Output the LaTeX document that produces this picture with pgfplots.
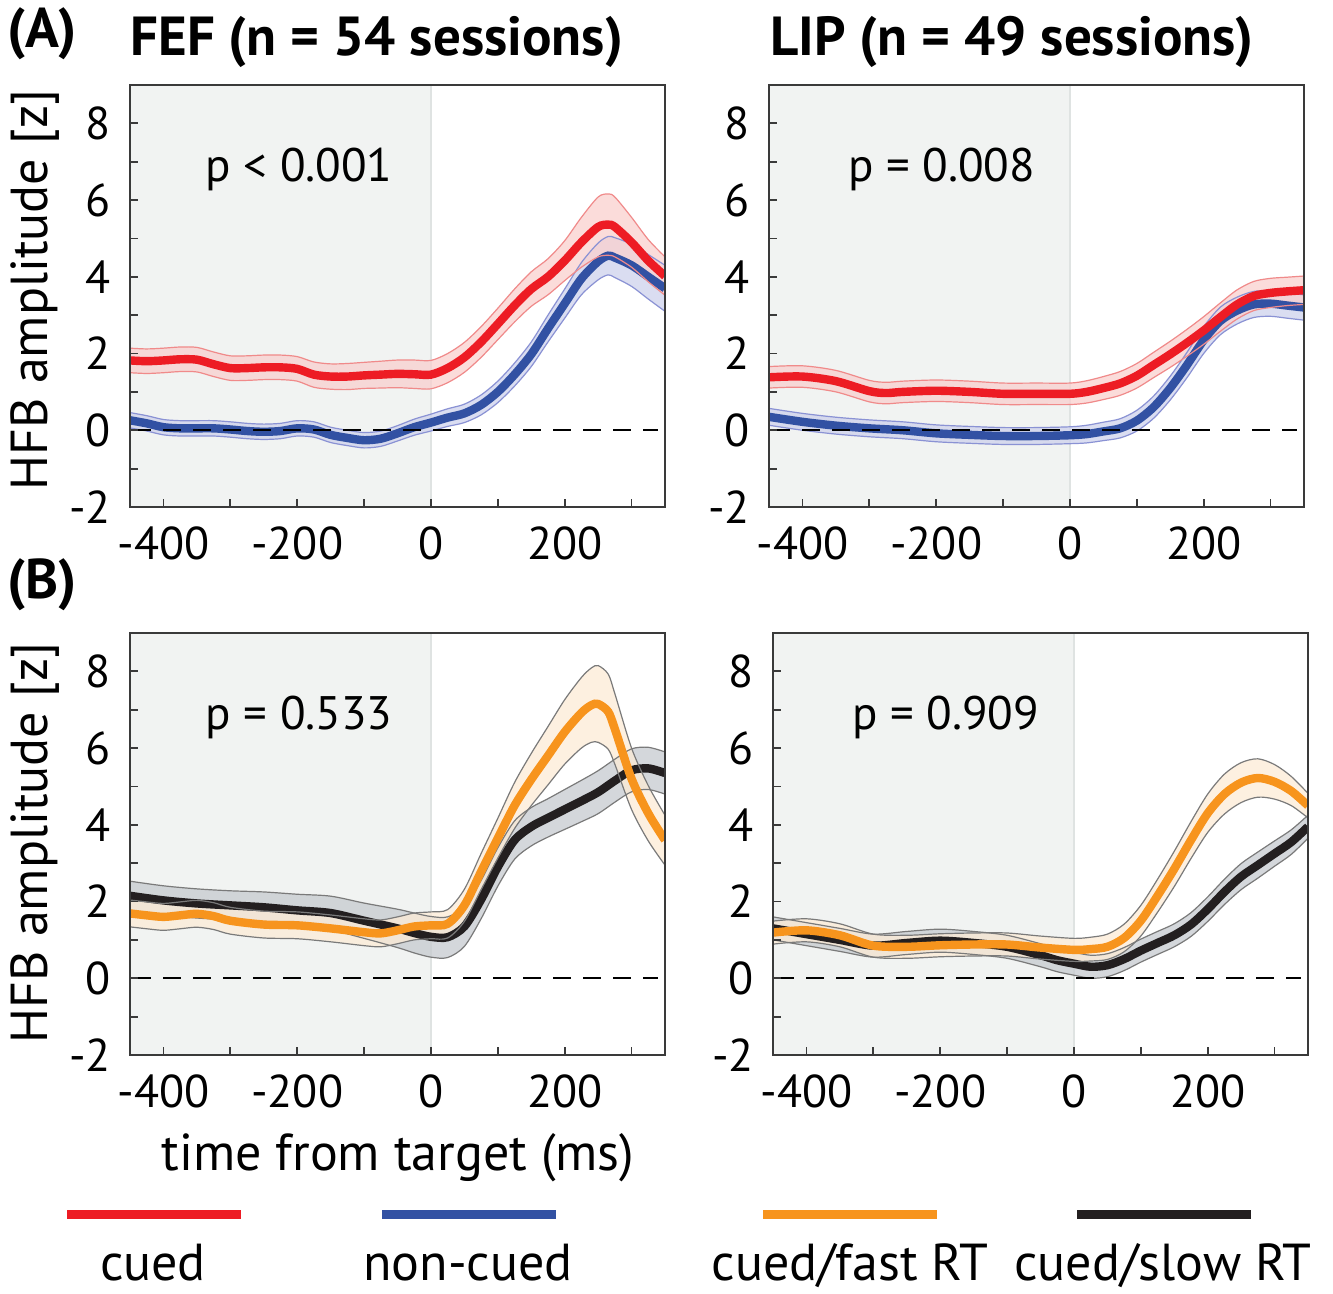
\documentclass[border=0pt]{standalone}
\usepackage{pgfplots}
\pgfplotsset{compat=1.18}
\usepackage{pgfplotstable}
\usepgfplotslibrary{fillbetween}
\usepackage{fontspec}
\setmainfont{PT Sans}

\definecolor{cuedred}{HTML}{ED1C24}
\definecolor{cuedredband}{HTML}{F9D0CE}
\definecolor{cuedrededge}{HTML}{F08A8A}
\definecolor{ncblue}{HTML}{3251A3}
\definecolor{ncblueband}{HTML}{CDD1EC}
\definecolor{ncblueedge}{HTML}{8A92D4}
\definecolor{fastorange}{HTML}{F7941D}
\definecolor{fastband}{HTML}{FDEBD6}
\definecolor{slowblack}{HTML}{231F20}
\definecolor{slowband}{HTML}{C6CACF}
\definecolor{bandedge}{HTML}{7A7A7A}
\definecolor{prestim}{HTML}{F1F3F2}
\definecolor{prestimedge}{HTML}{DFE3E2}
\definecolor{axisgray}{HTML}{3A3A3A}

% mean (m) and s.e.m. (e) per time bin, ms from target onset
\pgfplotstableread{
t m e
-450 1.82 0.32
-425 1.80 0.32
-400 1.82 0.32
-375 1.85 0.32
-350 1.84 0.32
-325 1.72 0.32
-300 1.62 0.32
-275 1.62 0.32
-250 1.64 0.32
-225 1.64 0.32
-200 1.60 0.32
-175 1.45 0.33
-150 1.40 0.33
-125 1.40 0.34
-100 1.43 0.34
-75 1.45 0.35
-50 1.47 0.36
-25 1.46 0.37
0 1.45 0.37
25 1.62 0.38
50 1.90 0.39
75 2.30 0.40
100 2.77 0.41
125 3.25 0.43
150 3.68 0.45
175 4.00 0.47
200 4.42 0.52
225 4.90 0.65
250 5.30 0.78
265 5.36 0.80
275 5.30 0.78
300 4.90 0.65
325 4.42 0.55
350 4.02 0.50
}\fefcued
\pgfplotstableread{
t m e
-450 0.26 0.20
-425 0.18 0.20
-400 0.08 0.20
-375 0.05 0.20
-350 0.05 0.20
-325 0.05 0.20
-300 0.02 0.20
-275 -0.02 0.20
-250 -0.04 0.20
-225 -0.02 0.20
-200 0.05 0.20
-175 0.02 0.20
-150 -0.12 0.20
-125 -0.20 0.20
-100 -0.26 0.20
-75 -0.22 0.20
-50 -0.08 0.20
-25 0.08 0.21
0 0.20 0.22
25 0.33 0.23
50 0.44 0.24
75 0.66 0.26
100 1.00 0.28
125 1.45 0.30
150 1.98 0.32
175 2.65 0.35
200 3.30 0.38
225 3.95 0.42
250 4.40 0.48
265 4.55 0.50
275 4.50 0.52
300 4.30 0.55
325 4.00 0.58
350 3.70 0.60
}\fefnoncued
\pgfplotstableread{
t m e
-450 1.38 0.28
-400 1.40 0.28
-350 1.28 0.28
-300 1.02 0.28
-275 0.97 0.28
-250 1.00 0.28
-200 1.03 0.28
-150 1.00 0.28
-100 0.95 0.28
-50 0.95 0.28
0 0.95 0.28
25 1.00 0.29
50 1.10 0.30
75 1.22 0.31
100 1.42 0.32
125 1.70 0.33
150 1.98 0.34
175 2.28 0.35
200 2.60 0.36
225 2.95 0.37
250 3.28 0.38
275 3.50 0.38
300 3.58 0.38
325 3.62 0.37
350 3.65 0.37
}\lipcued
\pgfplotstableread{
t m e
-450 0.35 0.22
-400 0.22 0.22
-350 0.12 0.22
-300 0.05 0.22
-250 0.00 0.22
-200 -0.08 0.22
-150 -0.12 0.22
-100 -0.15 0.22
-50 -0.15 0.22
0 -0.13 0.22
25 -0.10 0.23
50 -0.03 0.24
75 0.05 0.25
100 0.25 0.27
125 0.60 0.29
150 1.10 0.31
175 1.70 0.33
200 2.35 0.35
225 2.85 0.36
250 3.12 0.35
275 3.28 0.34
300 3.30 0.33
325 3.25 0.33
350 3.20 0.33
}\lipnoncued
\pgfplotstableread{
t m e
-450 1.69 0.35
-425 1.64 0.35
-400 1.60 0.35
-375 1.64 0.35
-350 1.68 0.35
-325 1.62 0.35
-300 1.50 0.35
-250 1.40 0.35
-200 1.38 0.35
-150 1.30 0.35
-100 1.20 0.35
-75 1.17 0.35
-50 1.25 0.35
-25 1.35 0.35
0 1.38 0.35
25 1.42 0.37
50 1.90 0.42
75 2.78 0.47
100 3.65 0.52
125 4.50 0.60
150 5.18 0.68
175 5.80 0.76
200 6.42 0.84
225 6.92 0.92
240 7.12 0.97
250 7.15 1.00
265 6.95 0.98
275 6.50 0.92
300 5.20 0.80
325 4.30 0.72
350 3.60 0.65
}\feffast
\pgfplotstableread{
t m e
-450 2.15 0.38
-400 2.03 0.38
-350 1.95 0.38
-300 1.90 0.38
-250 1.85 0.40
-200 1.77 0.42
-150 1.70 0.44
-100 1.50 0.46
-50 1.30 0.50
-25 1.18 0.52
0 1.08 0.53
25 1.07 0.53
50 1.35 0.52
75 2.05 0.50
100 2.90 0.50
125 3.60 0.50
150 3.95 0.50
175 4.18 0.50
200 4.40 0.52
225 4.62 0.54
250 4.85 0.56
275 5.15 0.56
300 5.42 0.56
325 5.47 0.55
350 5.35 0.55
}\fefslow
\pgfplotstableread{
t m e
-450 1.19 0.30
-400 1.25 0.30
-350 1.12 0.30
-300 0.85 0.30
-250 0.82 0.30
-200 0.86 0.30
-150 0.88 0.30
-100 0.88 0.30
-50 0.80 0.30
0 0.74 0.30
25 0.76 0.31
50 0.82 0.33
75 1.05 0.36
100 1.50 0.40
125 2.15 0.43
150 2.85 0.46
175 3.60 0.48
200 4.30 0.50
225 4.80 0.52
250 5.10 0.52
275 5.22 0.50
300 5.12 0.45
325 4.88 0.38
350 4.50 0.32
}\lipfast
\pgfplotstableread{
t m e
-450 1.30 0.30
-400 1.15 0.30
-350 1.00 0.30
-300 0.85 0.30
-250 0.92 0.30
-200 0.98 0.30
-150 0.92 0.30
-100 0.82 0.30
-50 0.60 0.30
-25 0.47 0.30
0 0.38 0.30
25 0.30 0.30
50 0.34 0.30
75 0.50 0.30
100 0.72 0.30
125 0.92 0.30
150 1.12 0.30
175 1.40 0.31
200 1.80 0.32
225 2.25 0.33
250 2.65 0.34
275 2.95 0.34
300 3.25 0.33
325 3.55 0.32
350 3.95 0.30
}\lipslow

% shaded s.e.m. band with thin edges, then the mean trace on top
% #1 table, #2 path id, #3 band fill, #4 band edge, #5 trace colour
\newcommand{\meanband}[5]{%
  \addplot[name path=up#2, draw=none, smooth] table[x=t, y expr=\thisrow{m}+\thisrow{e}] {#1};
  \addplot[name path=lo#2, draw=none, smooth] table[x=t, y expr=\thisrow{m}-\thisrow{e}] {#1};
  \addplot[fill=#3, fill opacity=0.75, draw=none] fill between[of=up#2 and lo#2];
  \addplot[draw=#4, line width=0.6pt, smooth] table[x=t, y expr=\thisrow{m}+\thisrow{e}] {#1};
  \addplot[draw=#4, line width=0.6pt, smooth] table[x=t, y expr=\thisrow{m}-\thisrow{e}] {#1};
  \addplot[draw=#5, line width=4.2pt, smooth] table[x=t, y=m] {#1};
}
% pre-target window (kept beneath the bands) and zero line
\newcommand{\prestimulus}{%
  \begin{pgfonlayer}{axis background}
    \fill[prestim] (axis cs:-450,-2) rectangle (axis cs:0,9);
    \draw[prestimedge, line width=0.8pt] (axis cs:0,-2) -- (axis cs:0,9);
  \end{pgfonlayer}
}
\newcommand{\zeroline}{%
  \addplot[draw=black, line width=1pt, dash pattern=on 9pt off 6pt] coordinates {(-445,0) (340,0)};
}

\pgfplotsset{
  panel/.style={
    set layers,
    scale only axis, width=267.5pt, height=211pt,
    anchor=south west,
    xmin=-450, xmax=350, ymin=-2, ymax=9,
    xtick={-400,-200,0,200}, minor xtick={-300,-100,100,300},
    ytick={-2,0,2,4,6,8}, minor ytick={-1,1,3,5,7},
    tick align=inside, tick pos=left,
    major tick length=4pt, minor tick length=4pt,
    every tick/.style={line width=0.9pt, color=axisgray},
    axis line style={line width=1pt, color=axisgray},
    tick label style={font=\fontsize{23}{23}\selectfont, text=black},
    /pgf/number format/assume math mode=true,
    /pgf/number format/1000 sep={},
    xticklabel style={yshift=-6.5pt},
    yticklabel style={xshift=-6pt},
    axis on top,
  }
}

\begin{document}
\begin{tikzpicture}

% (A) cued vs non-cued
\begin{axis}[panel, at={(65pt,393.5pt)}]
  \prestimulus
  \meanband{\fefnoncued}{a}{ncblueband}{ncblueedge}{ncblue}
  \meanband{\fefcued}{b}{cuedredband}{cuedrededge}{cuedred}
  \zeroline
  \node[font=\fontsize{23.5}{23.5}\selectfont] at (axis cs:-197,6.8) {p < 0.001};
\end{axis}
\begin{axis}[panel, at={(384.5pt,393.5pt)}]
  \prestimulus
  \meanband{\lipnoncued}{a}{ncblueband}{ncblueedge}{ncblue}
  \meanband{\lipcued}{b}{cuedredband}{cuedrededge}{cuedred}
  \zeroline
  \node[font=\fontsize{23.5}{23.5}\selectfont] at (axis cs:-192,6.8) {p = 0.008};
\end{axis}

% (B) cued trials split by reaction time
\begin{axis}[panel, at={(65pt,119.5pt)}]
  \prestimulus
  \meanband{\fefslow}{a}{slowband}{bandedge}{slowblack}
  \meanband{\feffast}{b}{fastband}{bandedge}{fastorange}
  \zeroline
  \node[font=\fontsize{23.5}{23.5}\selectfont] at (axis cs:-197,6.8) {p = 0.533};
\end{axis}
\begin{axis}[panel, at={(386.5pt,119.5pt)}]
  \prestimulus
  \meanband{\lipslow}{a}{slowband}{bandedge}{slowblack}
  \meanband{\lipfast}{b}{fastband}{bandedge}{fastorange}
  \zeroline
  \node[font=\fontsize{23.5}{23.5}\selectfont] at (axis cs:-192,6.8) {p = 0.909};
\end{axis}

% panel letters and titles
\node[font=\bfseries\fontsize{28}{28}\selectfont] at (21pt,630pt) {(A)};
\node[font=\bfseries\fontsize{28}{28}\selectfont] at (21pt,354.5pt) {(B)};
\node[font=\bfseries\fontsize{27.5}{27.5}\selectfont, anchor=west, inner sep=0pt] at (65pt,626pt) {FEF (n = 54 sessions)};
\node[font=\bfseries\fontsize{27.5}{27.5}\selectfont, anchor=west, inner sep=0pt] at (385pt,626pt) {LIP (n = 49 sessions)};

% axis labels
\node[rotate=90, font=\fontsize{26}{26}\selectfont] at (17.5pt,502pt) {HFB amplitude [z]};
\node[rotate=90, font=\fontsize{26}{26}\selectfont] at (17.5pt,225.5pt) {HFB amplitude [z]};
\node[font=\fontsize{26}{26}\selectfont] at (199pt,68pt) {time from target (ms)};

% legend
\draw[cuedred, line width=4.5pt] (33.5pt,39.5pt) -- (120.5pt,39.5pt);
\draw[ncblue, line width=4.5pt] (191pt,39.5pt) -- (278pt,39.5pt);
\draw[fastorange, line width=4.5pt] (381.5pt,39.5pt) -- (468.5pt,39.5pt);
\draw[slowblack, line width=4.5pt] (538.5pt,39.5pt) -- (625.5pt,39.5pt);
\begin{scope}[every node/.style={anchor=base, inner sep=0pt, font=\fontsize{26}{26}\selectfont}]
  \node at (76.5pt,6.5pt) {cued};
  \node at (234pt,6.5pt) {non-cued};
  \node at (425pt,6.5pt) {cued/fast RT};
  \node at (581.5pt,6.5pt) {cued/slow RT};
\end{scope}

% fixed page frame
\pgfresetboundingbox
\useasboundingbox (0,0) rectangle (666.5pt,647pt);
\end{tikzpicture}
\end{document}
